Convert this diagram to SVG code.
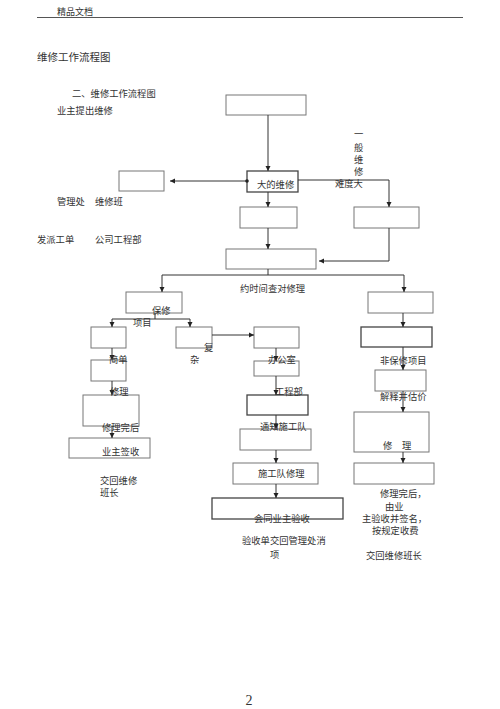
<svg xmlns="http://www.w3.org/2000/svg" width="500" height="709" viewBox="0 0 500 709">
<defs>
<marker id="ah" markerUnits="userSpaceOnUse" markerWidth="6" markerHeight="6" refX="5" refY="3" orient="auto">
<path d="M0,0.5 L5,3 L0,5.5 z" fill="#222"/>
</marker>
<style>
text{font-family:"Noto Sans CJK SC","Noto Sans CJK JP",sans-serif;font-size:9.3px;fill:#333}
.box{fill:#fff;stroke:#777;stroke-width:1}
.bold{fill:#fff;stroke:#444;stroke-width:1.3}
.c{fill:none;stroke:#333;stroke-width:1}
.ca{fill:none;stroke:#333;stroke-width:1;marker-end:url(#ah)}
</style>
</defs>
<rect width="500" height="709" fill="#fff"/>
<g id="header">
<text x="57" y="15" style="font-size:9px">精品文档</text>
<line x1="37" y1="17.5" x2="463" y2="17.5" stroke="#555" stroke-width="1"/>
</g>
<g id="titles">
<text x="37" y="61" style="font-size:10.5px">维修工作流程图</text>
<text x="72" y="96.5">二、维修工作流程图</text>
<text x="57" y="113.5">业主提出维修</text>
<text x="354" y="136.5">一</text>
<text x="354" y="150.5">般</text>
<text x="354" y="162.5">维</text>
<text x="354" y="174.5">修</text>
<text x="335" y="186.5">难度大</text>
<text x="57" y="205">管理处</text>
<text x="95" y="205">维修班</text>
<text x="37" y="242.5">发派工单</text>
<text x="95" y="242.5">公司工程部</text>
<text x="240" y="291.5">约时间查对修理</text>
<text x="100" y="484">交回维修</text>
<text x="100" y="496">班长</text>
<text x="242" y="544">验收单交回管理处消</text>
<text x="270" y="557.5">项</text>
<text x="380" y="497">修理完后，</text>
<text x="385" y="509.5">由业</text>
<text x="362" y="522">主验收并签名，</text>
<text x="372" y="534">按规定收费</text>
<text x="366" y="558.5">交回维修班长</text>
<text x="249" y="705" style="font-family:'Liberation Serif',serif;font-size:14px;fill:#333" text-anchor="middle">2</text>
</g>
<g id="n_start"><rect class="box" x="226" y="95" width="80" height="20"/></g>
<g id="n_big"><rect class="bold" x="247" y="171" width="51" height="21"/><text x="257" y="187.5">大的维修</text></g>
<g id="n_left"><rect class="box" x="119" y="171" width="45" height="20"/></g>
<g id="n_b2"><rect class="box" x="240" y="207" width="57" height="21"/></g>
<g id="n_r1"><rect class="box" x="354" y="207" width="65" height="21"/></g>
<g id="n_mid"><rect class="box" x="226" y="249" width="90" height="20"/></g>
<g id="n_baoxiu"><rect class="box" x="126" y="292" width="56" height="21"/></g>
<g id="n_simple"><rect class="box" x="91" y="327" width="35" height="21"/></g>
<g id="n_complex"><rect class="box" x="176" y="327" width="36" height="21"/></g>
<g id="n_fix1"><rect class="box" x="91" y="360" width="35" height="21"/></g>
<g id="n_fix2"><rect class="box" x="83" y="395" width="56" height="31"/></g>
<g id="n_sign"><rect class="box" x="69" y="438" width="81" height="20"/><text x="102" y="454.5">业主签收</text></g>
<g id="n_c1"><rect class="box" x="254" y="327" width="45" height="21"/></g>
<g id="n_c2"><rect class="box" x="254" y="361" width="45" height="15"/></g>
<g id="n_c3"><rect class="bold" x="247" y="395" width="61" height="20"/></g>
<g id="n_c4"><rect class="box" x="240" y="429" width="71" height="21"/></g>
<g id="n_c5"><rect class="box" x="233" y="463" width="85" height="21"/><text x="258" y="476.5">施工队修理</text></g>
<g id="n_c6"><rect class="bold" x="212" y="498" width="131" height="21"/></g>
<g id="n_r2"><rect class="box" x="368" y="292" width="65" height="21"/></g>
<g id="n_r3"><rect class="bold" x="361" y="327" width="71" height="20"/></g>
<g id="n_r4"><rect class="box" x="375" y="370" width="51" height="21"/></g>
<g id="n_r5"><rect class="box" x="354" y="412" width="75" height="40"/></g>
<g id="n_r6"><rect class="box" x="354" y="463" width="80" height="21"/></g>
<g id="connectors">
<path class="ca" d="M268,115 V171"/>
<path class="ca" d="M247,181 H170"/>
<circle cx="247" cy="181" r="1.8" fill="#222"/>
<path class="ca" d="M298,180 H389 V207"/>
<path class="ca" d="M268,192 V207"/>
<path class="ca" d="M268,228 V249"/>
<path class="ca" d="M389,228 V261 H319"/>
<path class="c" d="M268,269 V275 M162,275 H404"/>
<path class="ca" d="M162,275 V292"/>
<path class="ca" d="M404,275 V292"/>
<path class="c" d="M155,313 V319 M112,319 H190"/>
<path class="ca" d="M112,319 V327"/>
<path class="ca" d="M190,319 V327"/>
<path class="ca" d="M112,348 V360"/>
<path class="ca" d="M112,381 V395"/>
<path class="ca" d="M112,426 V438"/>
<path class="ca" d="M212,335 H254"/>
<path class="ca" d="M276,348 V361"/>
<path class="ca" d="M276,376 V395"/>
<path class="ca" d="M276,415 V429"/>
<path class="ca" d="M276,450 V463"/>
<path class="ca" d="M276,484 V498"/>
<path class="ca" d="M403,313 V327"/>
<path class="ca" d="M403,347 V370"/>
<path class="ca" d="M403,391 V412"/>
<path class="ca" d="M403,452 V463"/>
</g>
<g id="overlay_labels">
<text x="152" y="314">保修</text>
<text x="133" y="326">项目</text>
<text x="109" y="362.5">简单</text>
<text x="204" y="351">复</text>
<text x="190" y="362.5">杂</text>
<text x="110" y="395">修理</text>
<text x="102" y="431">修理完后</text>
<text x="268" y="362.5">办公室</text>
<text x="275" y="394.5">工程部</text>
<text x="260" y="430">通知施工队</text>
<text x="254" y="521.5">会同业主验收</text>
<text x="380" y="363.5">非保修项目</text>
<text x="380" y="400">解释并估价</text>
<text x="383" y="448.5">修</text>
<text x="402" y="448.5">理</text>
</g>
</svg>
